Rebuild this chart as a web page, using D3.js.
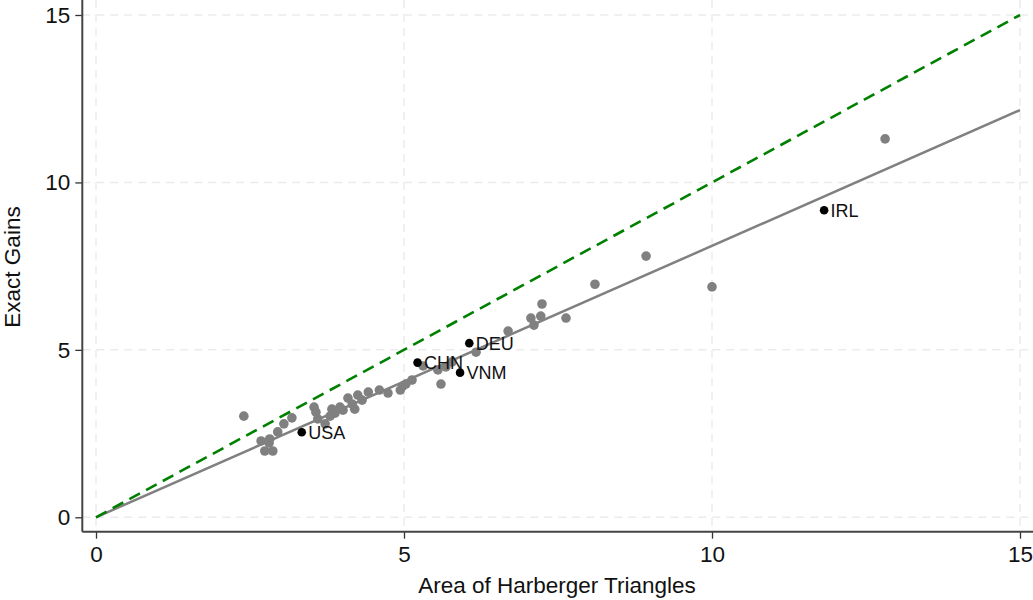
<!DOCTYPE html>
<html>
<head>
<meta charset="utf-8">
<script src="https://cdn.jsdelivr.net/npm/d3@7"></script>
<style>
  html, body { margin: 0; padding: 0; background: #fff; }
  svg { display: block; font-family: "Liberation Sans", Arial, sans-serif; }
</style>
</head>
<body>
<svg id="chart" width="1033" height="600"></svg>
<script>
// ---- data ----
const grayX = [2.40, 2.68, 2.74, 2.87, 2.82, 2.81, 2.95, 3.05, 3.18, 3.54, 3.57, 3.60, 3.72, 3.80, 3.83, 3.88, 3.96, 4.01, 4.09, 4.16, 4.20, 4.25, 4.32, 4.42, 4.60, 4.74, 4.94, 4.98, 5.03, 5.13, 5.31, 5.55, 5.60, 5.68, 5.78, 6.17, 6.69, 7.06, 7.11, 7.22, 7.24, 7.63, 8.10, 8.93, 10.00, 12.81];
const grayY = [3.02, 2.28, 1.98, 1.98, 2.34, 2.22, 2.55, 2.79, 2.97, 3.29, 3.14, 2.94, 2.79, 3.02, 3.23, 3.11, 3.29, 3.20, 3.56, 3.38, 3.23, 3.65, 3.50, 3.74, 3.80, 3.71, 3.80, 3.92, 3.98, 4.10, 4.52, 4.40, 3.98, 4.49, 4.64, 4.93, 5.56, 5.95, 5.74, 6.01, 6.37, 5.95, 6.96, 7.80, 6.88, 11.30];
const labelNames = ["USA", "CHN", "VNM", "DEU", "IRL"];
const labelX = [3.34, 5.22, 5.91, 6.06, 11.82];
const labelY = [2.54, 4.62, 4.32, 5.20, 9.17];
const fitX = [0, 15];
const fitY = [0, 12.16];
const diagX = [0, 15];
const diagY = [0, 15];
const xTicks = [0, 5, 10, 15];
const yTicks = [0, 5, 10, 15];
const xTitle = "Area of Harberger Triangles";
const yTitle = "Exact Gains";

// ---- layout ----
const svg = d3.select("#chart");
const x = d3.scaleLinear().domain([0, 15]).range([96, 1020]);
const y = d3.scaleLinear().domain([0, 15]).range([517.3, 15]);
const axisX0 = 82.3, axisY0 = 531.7;

// grid
const grid = svg.append("g");
grid.selectAll("line.gx").data(xTicks).join("line")
  .attr("x1", d => x(d)).attr("x2", d => x(d))
  .attr("y1", 0).attr("y2", axisY0)
  .attr("stroke", "#ebebeb").attr("stroke-width", 1.5).attr("stroke-dasharray", "8,6");
grid.selectAll("line.gy").data(yTicks).join("line")
  .attr("y1", d => y(d)).attr("y2", d => y(d))
  .attr("x1", axisX0).attr("x2", 1033)
  .attr("stroke", "#ebebeb").attr("stroke-width", 1.5).attr("stroke-dasharray", "8,6");

// axes
const xAxis = d3.axisBottom(x).tickValues(xTicks).tickSize(7).tickPadding(5).tickFormat(d3.format("d"));
const yAxis = d3.axisLeft(y).tickValues(yTicks).tickSize(7).tickPadding(5).tickFormat(d3.format("d"));
const gx = svg.append("g").attr("transform", `translate(0,${axisY0})`).call(xAxis);
const gy = svg.append("g").attr("transform", `translate(${axisX0},0)`).call(yAxis);
[gx, gy].forEach(g => {
  g.select(".domain").remove();
  g.selectAll(".tick line").attr("stroke", "#333").attr("stroke-width", 1.3);
  g.selectAll(".tick text").attr("fill", "#111").style("font-size", "22.5px")
    .style("font-family", "'Liberation Sans', Arial, sans-serif");
});
gx.selectAll(".tick text").attr("dy", "0.8em");
// axis lines
svg.append("line").attr("x1", axisX0).attr("x2", 1033).attr("y1", axisY0).attr("y2", axisY0)
  .attr("stroke", "#444").attr("stroke-width", 2);
svg.append("line").attr("x1", axisX0).attr("x2", axisX0).attr("y1", 0).attr("y2", axisY0)
  .attr("stroke", "#444").attr("stroke-width", 2);

// titles
svg.append("text").attr("x", 557).attr("y", 593).attr("text-anchor", "middle")
  .style("font-size", "22.5px").attr("fill", "#111").text(xTitle);
svg.append("text").attr("transform", "translate(20,267) rotate(-90)").attr("text-anchor", "middle")
  .style("font-size", "22.5px").attr("fill", "#111").text(yTitle);

// points (gray)
const gray = grayX.map((v, i) => ({x: v, y: grayY[i]}));
svg.append("g").selectAll("circle").data(gray).join("circle")
  .attr("cx", d => x(d.x)).attr("cy", d => y(d.y)).attr("r", 4.8)
  .attr("fill", "#808080");

// fit line
const line = d3.line().x(d => x(d[0])).y(d => y(d[1]));
svg.append("path").datum(fitX.map((v, i) => [v, fitY[i]]))
  .attr("d", line).attr("fill", "none").attr("stroke", "#808080").attr("stroke-width", 2.5);

// 45 degree line
svg.append("path").datum(diagX.map((v, i) => [v, diagY[i]]))
  .attr("d", line).attr("fill", "none").attr("stroke", "#008000").attr("stroke-width", 2.6)
  .attr("stroke-dasharray", "12,7");

// labelled points
const lab = labelNames.map((n, i) => ({n, x: labelX[i], y: labelY[i]}));
const lg = svg.append("g");
lg.selectAll("circle").data(lab).join("circle")
  .attr("cx", d => x(d.x)).attr("cy", d => y(d.y)).attr("r", 4.3).attr("fill", "#000");
lg.selectAll("text").data(lab).join("text")
  .attr("x", d => x(d.x) + 6.5).attr("y", d => y(d.y)).attr("dy", "0.36em")
  .style("font-size", "18px").attr("fill", "#111").text(d => d.n);
</script>
</body>
</html>
